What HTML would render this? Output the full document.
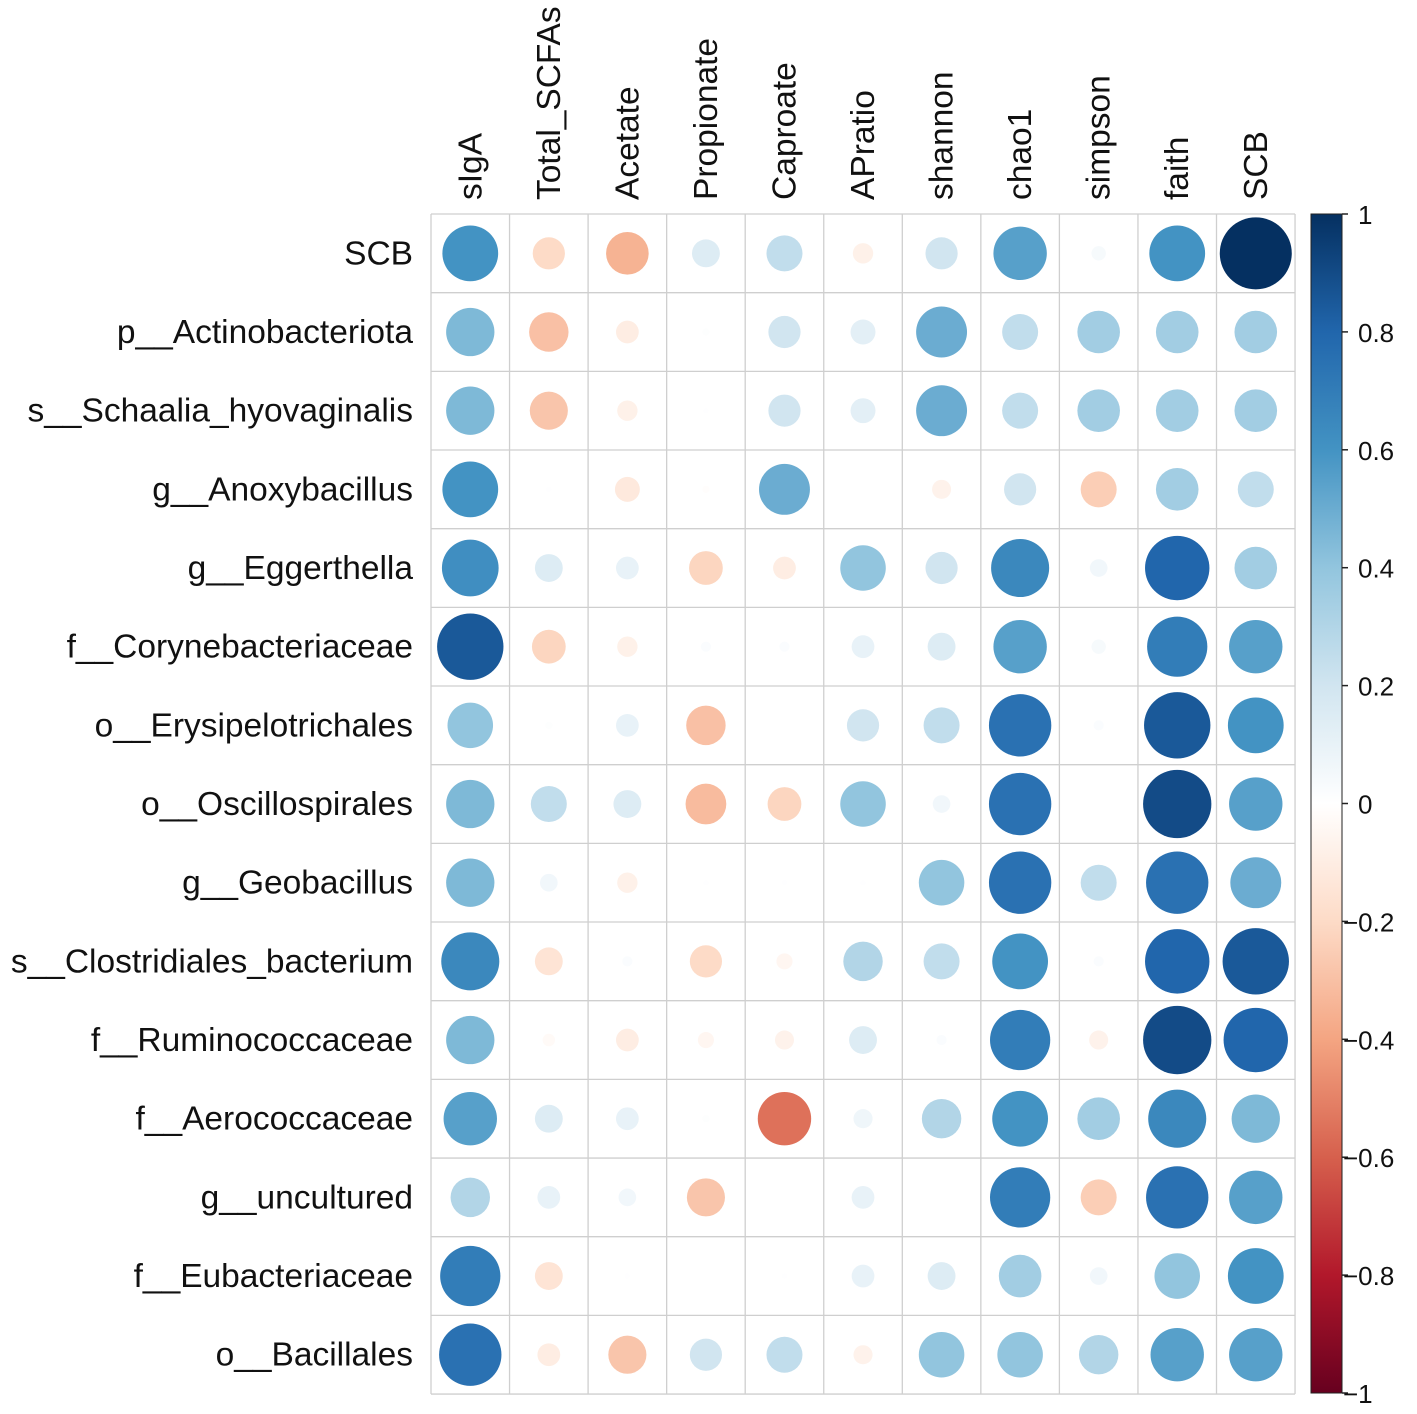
<!DOCTYPE html>
<html><head><meta charset="utf-8"><style>
body{margin:0;background:#fff;}
svg{display:block;font-family:"Liberation Sans",sans-serif;}
</style></head><body>
<svg id="c" width="1417" height="1414"></svg>
<script>
const rows=["SCB","p__Actinobacteriota","s__Schaalia_hyovaginalis","g__Anoxybacillus","g__Eggerthella","f__Corynebacteriaceae","o__Erysipelotrichales","o__Oscillospirales","g__Geobacillus","s__Clostridiales_bacterium","f__Ruminococcaceae","f__Aerococcaceae","g__uncultured","f__Eubacteriaceae","o__Bacillales"];
const cols=["sIgA","Total_SCFAs","Acetate","Propionate","Caproate","APratio","shannon","chao1","simpson","faith","SCB"];
const vals=[
[0.6,-0.2,-0.35,0.15,0.25,-0.08,0.2,0.55,0.04,0.6,1],
[0.45,-0.3,-0.1,0.01,0.2,0.12,0.5,0.25,0.35,0.35,0.35],
[0.45,-0.28,-0.08,0.005,0.2,0.12,0.5,0.25,0.35,0.35,0.35],
[0.6,0.005,-0.12,-0.01,0.5,0,-0.07,0.2,-0.25,0.35,0.25],
[0.62,0.15,0.1,-0.22,-0.1,0.4,0.2,0.65,0.06,0.8,0.35],
[0.85,-0.22,-0.08,0.02,0.02,0.1,0.15,0.55,0.04,0.7,0.55],
[0.4,0.01,0.1,-0.3,0,0.2,0.25,0.75,0.02,0.85,0.6],
[0.45,0.25,0.15,-0.32,-0.22,0.4,0.06,0.75,0,0.9,0.55],
[0.45,0.06,-0.08,0.005,0.005,0.005,0.4,0.75,0.25,0.75,0.5],
[0.65,-0.15,0.02,-0.2,-0.05,0.3,0.25,0.6,0.02,0.8,0.85],
[0.45,-0.03,-0.1,-0.05,-0.07,0.15,0.02,0.7,-0.07,0.9,0.8],
[0.55,0.15,0.1,0.01,-0.55,0.07,0.3,0.6,0.35,0.65,0.45],
[0.3,0.1,0.06,-0.28,0,0.1,0,0.7,-0.25,0.75,0.55],
[0.7,-0.15,0.005,0,0.005,0.1,0.15,0.35,0.06,0.4,0.6],
[0.75,-0.1,-0.28,0.2,0.25,-0.07,0.4,0.4,0.3,0.55,0.55]];
const barTicks=[1,0.8,0.6,0.4,0.2,0,-0.2,-0.4,-0.6,-0.8,-1];
const pal=["#67001F","#B2182B","#D6604D","#F4A582","#FDDBC7","#FFFFFF","#D1E5F0","#92C5DE","#4393C3","#2166AC","#053061"];
const L=431,T=214,CW=78.55,RH=78.67,RMAX=36,BX=1311,BW=31,BT=214,BB=1393;
const NS="http://www.w3.org/2000/svg",svg=document.getElementById('c');
function hex(h){return [1,3,5].map(i=>parseInt(h.substr(i,2),16));}
function color(v){let t=(v+1)/2*10;let i=Math.min(9,Math.floor(t)),f=t-i;const a=hex(pal[i]),b=hex(pal[i+1]);return "rgb("+a.map((x,k)=>Math.round(x+(b[k]-x)*f)).join(",")+")";}
function el(tag,attrs,parent){const e=document.createElementNS(NS,tag);for(const k in attrs)e.setAttribute(k,attrs[k]);(parent||svg).appendChild(e);return e;}
const xc=j=>L+CW*(j+0.5), yc=i=>T+RH*(i+0.5), yb=v=>BT+(1-v)/2*(BB-BT);
const g=el('g',{});


for(let j=0;j<=cols.length;j++)el('line',{x1:L+CW*j,x2:L+CW*j,y1:T,y2:T+RH*rows.length,stroke:"#cfcfcf","stroke-width":1.3},g);
for(let i=0;i<=rows.length;i++)el('line',{x1:L,x2:L+CW*cols.length,y1:T+RH*i,y2:T+RH*i,stroke:"#cfcfcf","stroke-width":1.3},g);
rows.forEach((r,i)=>{
 const t=el('text',{x:413,y:yc(i)+11,"text-anchor":"end","font-size":33.5,fill:"#111"});t.textContent=r;
 
 
 cols.forEach((c,j)=>{const v=vals[i][j];
  const ci=el('circle',{cx:xc(j),cy:yc(i),r:RMAX*Math.sqrt(Math.abs(v)),fill:color(v)});
  
  });
});
cols.forEach((c,j)=>{
 const t=el('text',{x:0,y:0,transform:"translate("+(xc(j)+11)+",200) rotate(-90)","font-size":33.5,fill:"#111"});t.textContent=c;
 
 
});
const defs=el('defs',{});const lg=el('linearGradient',{id:"gr",x1:0,y1:1,x2:0,y2:0},defs);
pal.forEach((p,k)=>el('stop',{offset:k/10,"stop-color":p},lg));
const bar=el('rect',{x:BX,y:BT,width:BW,height:BB-BT,fill:"url(#gr)",stroke:"#222","stroke-width":1});


barTicks.forEach(v=>{
 el('line',{x1:BX+BW,x2:BX+BW+6,y1:yb(v),y2:yb(v),stroke:"#222","stroke-width":1.5});
 const t=el('text',{x:BX+BW+(v<0?1:16),y:yb(v)+(v===1?10:10),"font-size":26,fill:"#111"});t.textContent=v<0?"\u2212"+(-v):String(v);
 
 
});
</script>
</body></html>
